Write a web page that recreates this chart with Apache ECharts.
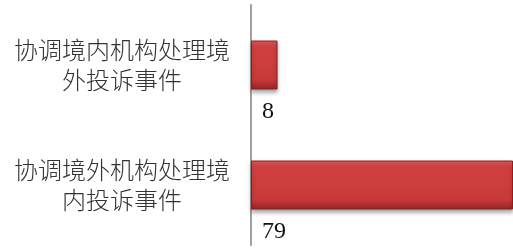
<!DOCTYPE html>
<html>
<head>
<meta charset="utf-8">
<script src="https://cdn.jsdelivr.net/npm/echarts@6/dist/echarts.min.js"></script>
<style>
	html, body { margin: 0; padding: 0; background: #fff; }
	#chart { width: 513px; height: 248px; }
</style>
</head>
<body>
<div id="chart"></div>
<script>
// categories top -> bottom
var categories = ['协调境内机构处理境\n外投诉事件', '协调境外机构处理境\n内投诉事件'];
var values = [8, 79];

var chart = echarts.init(document.getElementById('chart'));

var barColor = new echarts.graphic.LinearGradient(0, 0, 0, 1, [
	{ offset: 0, color: '#e25a5a' },
	{ offset: 0.15, color: '#d04040' },
	{ offset: 0.8, color: '#c83a3a' },
	{ offset: 1, color: '#9a2222' },
]);

var option = {
	animation: false,
	grid: { left: 251, right: 0, top: 5, bottom: 3, containLabel: false },
	xAxis: {
		type: 'value',
		min: 0,
		max: 79,
		show: false,
	},
	yAxis: {
		type: 'category',
		inverse: true,
		data: categories,
		axisLine: { show: true, lineStyle: { color: '#a0a0a0', width: 2 } },
		axisTick: { show: false },
		axisLabel: {
			align: 'center',
			margin: 129,
			fontFamily: 'Noto Sans CJK SC',
			fontWeight: 300,
			fontSize: 24,
			lineHeight: 30,
			color: '#333',
		},
	},
	series: [
		{
			type: 'bar',
			data: values,
			barWidth: 49,
			itemStyle: {
				color: barColor,
				borderColor: '#8e1e1e',
				borderWidth: 1,
				shadowColor: 'rgba(0,0,0,0.35)',
				shadowBlur: 4,
				shadowOffsetY: 3,
			},
			label: {
				show: true,
				position: [11, 59],
				verticalAlign: 'top',
				align: 'left',
				fontFamily: 'Liberation Serif',
				fontSize: 24,
				color: '#111',
			},
		},
	],
};

chart.setOption(option);
</script>
</body>
</html>
